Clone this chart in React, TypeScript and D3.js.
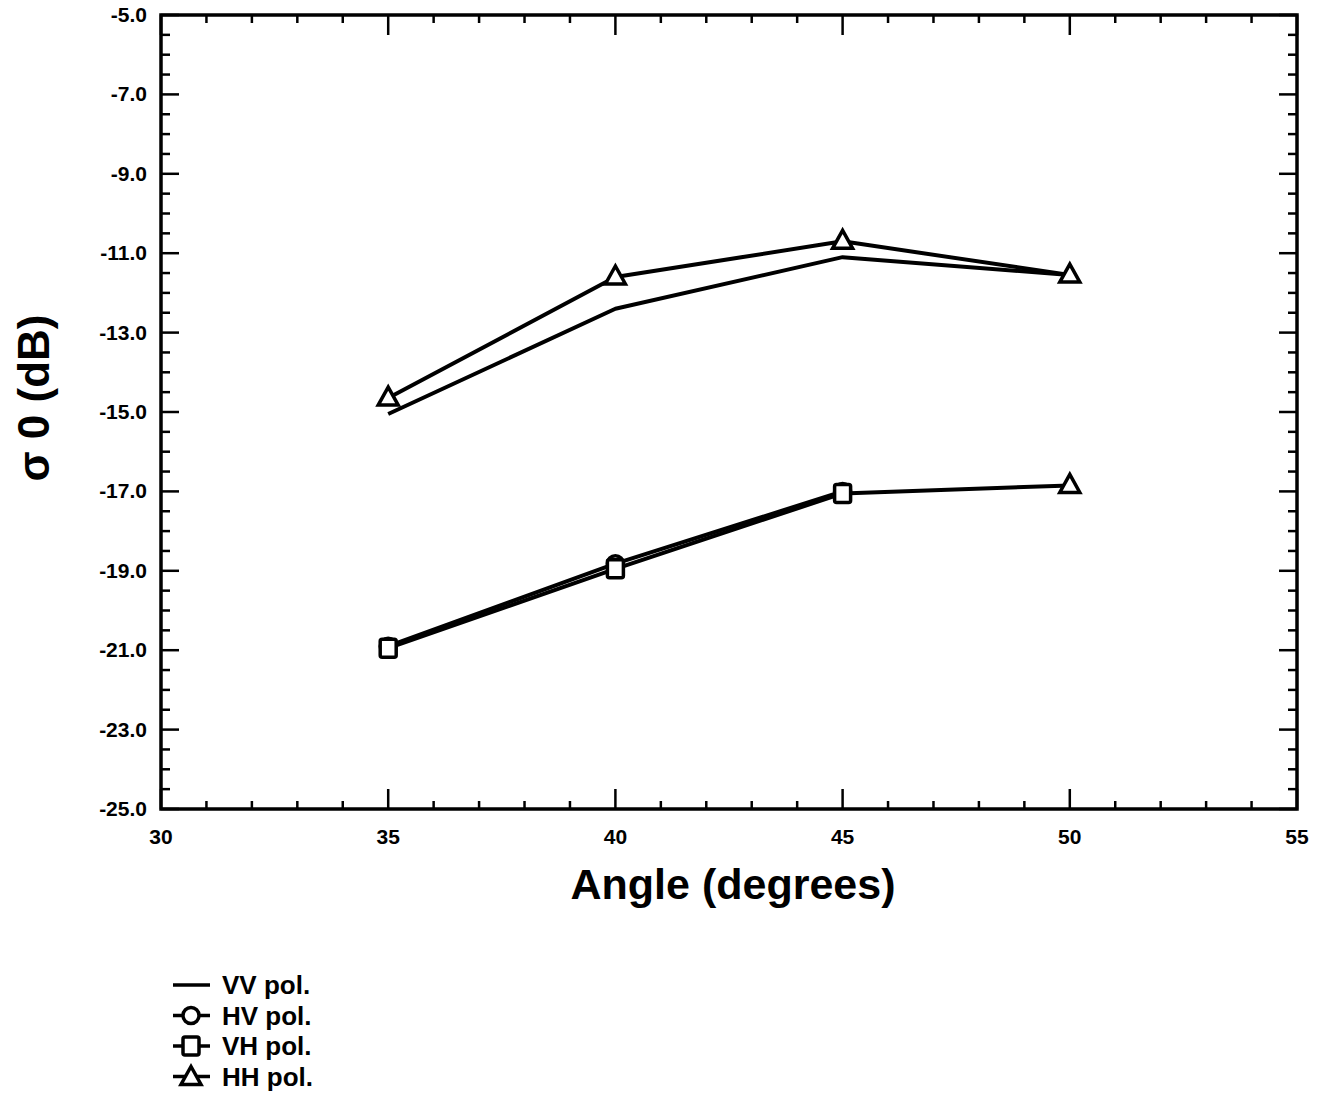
import React from "react";
import * as d3 from "d3";

const angles = [35, 40, 45, 50];
const vvValues = [-15.05, -12.4, -11.1, -11.55];
const hhValues = [-14.65, -11.6, -10.7, -11.55];
const hvAngles = [35, 40, 45];
const hvValues = [-20.9, -18.82, -17.0];
const vhValues = [-20.95, -18.95, -17.05, -16.85];
const vhMarkers = ["square", "square", "square", "triangle"];

const xMajorTicks = [30, 35, 40, 45, 50, 55];
const yMajorTicks = [-25, -23, -21, -19, -17, -15, -13, -11, -9, -7, -5];
const legendLabels = ["VV pol.", "HV pol.", "VH pol.", "HH pol."];
const legendMarkers = ["none", "circle", "square", "triangle"];

const W = 1336;
const H = 1095;
const left = 161;
const right = 1297;
const top = 15;
const bottom = 809;

const FONT = "'Liberation Sans', Arial, Helvetica, sans-serif";

function Marker({ type, x, y }: { type: string; x: number; y: number }) {
  if (type === "circle") {
    return <circle cx={x} cy={y} r={8} fill="#fff" stroke="#000" strokeWidth={3.5} />;
  }
  if (type === "square") {
    return (
      <rect x={x - 8} y={y - 9} width={16} height={18} rx={2} fill="#fff" stroke="#000" strokeWidth={3.5} />
    );
  }
  if (type === "triangle") {
    return (
      <path
        d={`M${x},${y - 11}L${x + 10},${y + 7}L${x - 10},${y + 7}Z`}
        fill="#fff"
        stroke="#000"
        strokeWidth={3.5}
        strokeLinejoin="miter"
      />
    );
  }
  return null;
}

export default function App() {
  const x = d3.scaleLinear().domain([30, 55]).range([left, right]);
  const y = d3.scaleLinear().domain([-25, -5]).range([bottom, top]);
  const xMinor = d3.range(30, 55.001, 1);
  const yMinor = d3.range(-25, -4.999, 0.5);

  const line = d3
    .line<[number, number]>()
    .x((d) => x(d[0]))
    .y((d) => y(d[1]));

  const vv = angles.map((a, i) => [a, vvValues[i]] as [number, number]);
  const hh = angles.map((a, i) => [a, hhValues[i]] as [number, number]);
  const hv = hvAngles.map((a, i) => [a, hvValues[i]] as [number, number]);
  const vh = angles.map((a, i) => [a, vhValues[i]] as [number, number]);

  const lineStyle = { fill: "none", stroke: "#000", strokeWidth: 4, strokeLinejoin: "round" as const };

  return (
    <svg
      width={W}
      height={H}
      style={{ position: "absolute", left: 0, top: 0, background: "#fff" }}
      fontFamily={FONT}
    >
      <rect x={0} y={0} width={W} height={H} fill="#fff" />
      {xMinor.map((t) => {
        const major = t % 5 === 0;
        const len = major ? 20 : 8;
        return (
          <g key={"xt" + t}>
            <line x1={x(t)} x2={x(t)} y1={bottom} y2={bottom - len} stroke="#000" strokeWidth={2.5} />
            <line x1={x(t)} x2={x(t)} y1={top} y2={top + len} stroke="#000" strokeWidth={2.5} />
          </g>
        );
      })}
      {yMinor.map((t) => {
        const major = Math.abs((t + 25) % 2) < 1e-6;
        const len = major ? 18 : 9;
        return (
          <g key={"yt" + t}>
            <line x1={left} x2={left + len} y1={y(t)} y2={y(t)} stroke="#000" strokeWidth={2.5} />
            <line x1={right} x2={right - len} y1={y(t)} y2={y(t)} stroke="#000" strokeWidth={2.5} />
          </g>
        );
      })}
      <rect
        x={left}
        y={top}
        width={right - left}
        height={bottom - top}
        fill="none"
        stroke="#000"
        strokeWidth={3.5}
      />
      {xMajorTicks.map((t) => (
        <text
          key={"xl" + t}
          x={x(t)}
          y={bottom + 35}
          textAnchor="middle"
          fontSize={21}
          fontWeight="bold"
        >
          {t}
        </text>
      ))}
      {yMajorTicks.map((t) => (
        <text
          key={"yl" + t}
          x={147}
          y={y(t) + 7}
          textAnchor="end"
          fontSize={21}
          fontWeight="bold"
        >
          {t.toFixed(1)}
        </text>
      ))}
      <text x={733} y={899} textAnchor="middle" fontSize={43} fontWeight="bold">
        Angle (degrees)
      </text>
      <text
        transform={`translate(49, 398) rotate(-90)`}
        textAnchor="middle"
        fontSize={44}
        fontWeight="bold"
      >
        σ 0 (dB)
      </text>
      <path d={line(vv) || ""} {...lineStyle} />
      <path d={line(hh) || ""} {...lineStyle} />
      <path d={line(hv) || ""} {...lineStyle} />
      <path d={line(vh) || ""} {...lineStyle} />
      {hv.map((d, i) => (
        <Marker key={"hv" + i} type="circle" x={x(d[0])} y={y(d[1])} />
      ))}
      {vh.map((d, i) => (
        <Marker key={"vh" + i} type={vhMarkers[i]} x={x(d[0])} y={y(d[1])} />
      ))}
      {hh.map((d, i) => (
        <Marker key={"hh" + i} type="triangle" x={x(d[0])} y={y(d[1])} />
      ))}
      {legendLabels.map((lab, i) => {
        const cy = 985 + i * 30.5;
        return (
          <g key={"lg" + i}>
            <line x1={173} x2={210} y1={cy} y2={cy} stroke="#000" strokeWidth={3.5} />
            <Marker type={legendMarkers[i]} x={191} y={cy + (legendMarkers[i] === "triangle" ? 1 : 0)} />
            <text x={222} y={cy + 9} fontSize={26} fontWeight="bold">
              {lab}
            </text>
          </g>
        );
      })}
    </svg>
  );
}
